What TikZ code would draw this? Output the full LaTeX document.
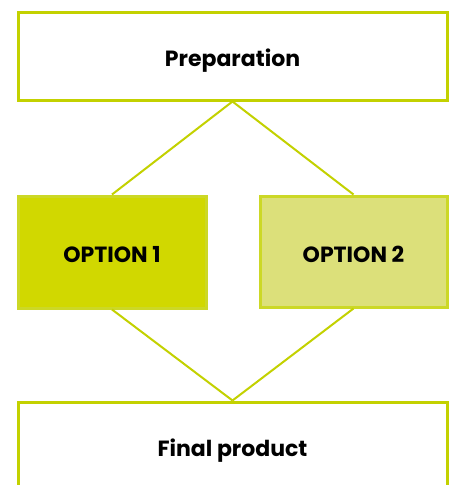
\documentclass[tikz,border=0pt]{standalone}
\usepackage{fontspec}
\setmainfont{Poppins}
\definecolor{lineG}{HTML}{C3D100}
\definecolor{optA}{HTML}{D1D800}
\definecolor{optB}{HTML}{DCE07A}
\begin{document}
\begin{tikzpicture}[x=1pt,y=-1pt,
  box/.style={draw=lineG, line width=3pt, fill=white, inner sep=0pt, text height=21pt, text depth=0pt, font=\fontsize{22}{26}\selectfont\bfseries},
  link/.style={draw=lineG, line width=2pt}]
\clip (0,0) rectangle (454,485);
\fill[white] (0,0) rectangle (454,485);
\node[box, minimum width=429pt, minimum height=88pt] (prep) at (232.5,56) {Preparation};
\node[box, fill=optA, draw=lineG!85!white, minimum width=188pt, minimum height=112pt] (opt1) at (112,252) {OPTION 1};
\node[box, fill=optB, draw=lineG!85!white, minimum width=187pt, minimum height=111pt] (opt2) at (353.5,251.5) {OPTION 2};
\node[box, minimum width=429pt, minimum height=88pt] (final) at (232.5,446) {Final product};
\draw[link] (prep.south) -- (opt1.north);
\draw[link] (prep.south) -- (opt2.north);
\draw[link] (opt1.south) -- (final.north);
\draw[link] (opt2.south) -- (final.north);
\end{tikzpicture}
\end{document}
